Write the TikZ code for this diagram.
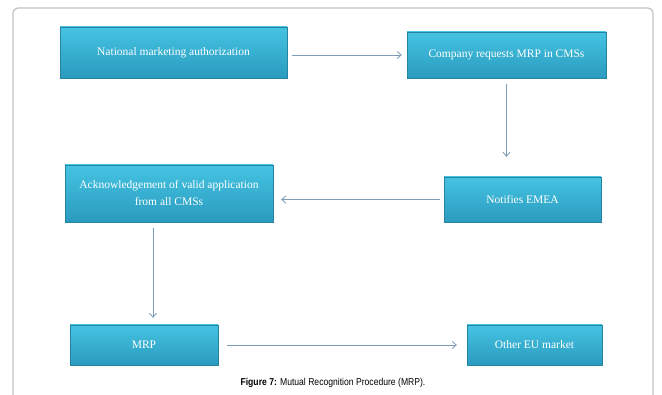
\documentclass[tikz,border=0pt]{standalone}
\usepackage{fontspec}
\setmainfont{Liberation Serif}
\newfontfamily\capfont[FakeStretch=0.86]{Liberation Sans}
\usetikzlibrary{shadows,arrows.meta}
\definecolor{boxtop}{HTML}{45C3E2}
\definecolor{boxbot}{HTML}{2A9BBE}
\definecolor{arrcol}{HTML}{7E9BB8}
\definecolor{framecol}{HTML}{C4C4C4}
\tikzset{
  stepbox/.style={rectangle, top color=boxtop, bottom color=boxbot, draw=boxbot!85!black, line width=0.3pt,
    text=white, font=\fontsize{11.5}{17}\selectfont, align=center, inner sep=0pt,
    drop shadow={shadow xshift=1.2pt, shadow yshift=-1.5pt, opacity=0.45}},
  flow/.style={draw=arrcol, line width=0.8pt, -{Straight Barb[length=4pt,width=7pt]}}
}
\begin{document}
\begin{tikzpicture}[x=1pt,y=-1pt]
\useasboundingbox (0,0) rectangle (662,395);
\fill[white] (0,0) rectangle (662,395);
\begin{scope}
\clip (0,0) rectangle (662,395);
\draw[framecol, line width=1.3pt, rounded corners=5pt] (13,420) -- (13,8) -- (653,8) -- (653,420);
\end{scope}
\node[stepbox, minimum width=227pt, minimum height=51pt] (b1) at (173.5,52.5) {National marketing authorization};
\node[stepbox, minimum width=199pt, minimum height=46pt] (b2) at (506.5,55) {Company requests MRP in CMSs};
\node[stepbox, minimum width=208pt, minimum height=57pt] (b3) at (169,193.5) {Acknowledgement of valid application\\from all CMSs};
\node[stepbox, minimum width=157pt, minimum height=45pt] (b4) at (522.5,199.5) {Notifies EMEA};
\node[stepbox, minimum width=148pt, minimum height=40pt] (b5) at (144,345) {MRP};
\node[stepbox, minimum width=135pt, minimum height=40pt] (b6) at (534.5,345) {Other EU market};
\draw[flow, shorten <=5pt, shorten >=5pt] (b1.east |- b2.west) -- (b2.west);
\draw[flow, shorten <=6pt, shorten >=20pt] (b2.south) -- (b2.south |- b4.north);
\draw[flow, shorten <=4pt, shorten >=8pt] (b4.west) -- (b4.west -| b3.east);
\draw[flow, shorten <=6pt, shorten >=7pt] ([xshift=-16pt]b3.south) -- ([xshift=-16pt]b3.south |- b5.north);
\draw[flow, shorten <=9pt, shorten >=10pt] (b5.east) -- (b6.west);
\node[font=\capfont\fontsize{10}{11}\selectfont, inner sep=0pt] (cap) at (333,383) {\textbf{Figure 7:} Mutual Recognition Procedure (MRP).};
\end{tikzpicture}
\end{document}
